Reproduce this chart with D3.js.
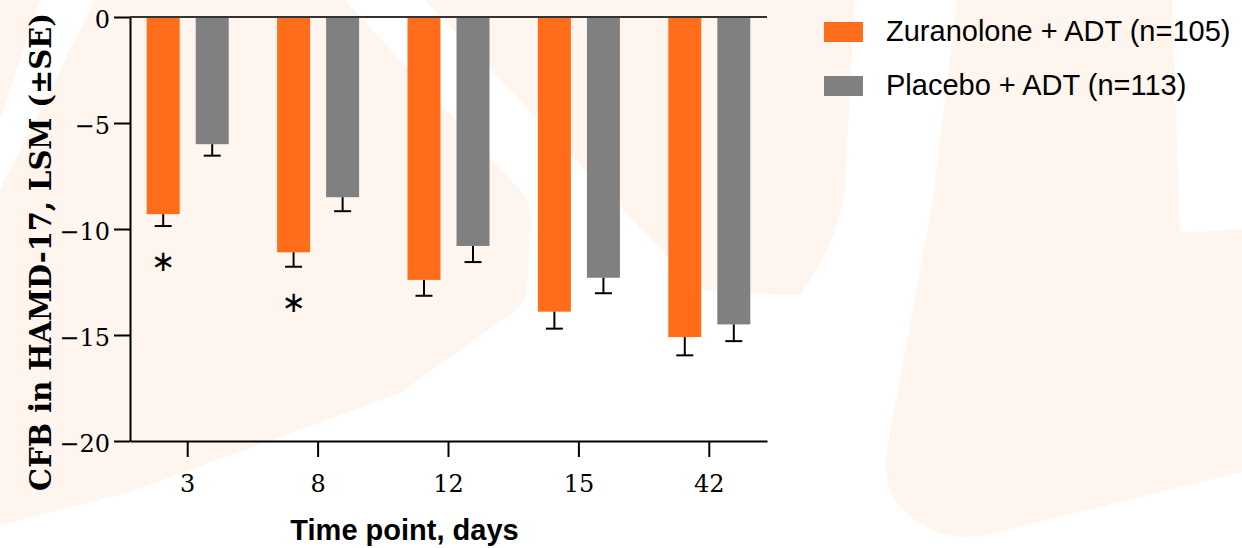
<!DOCTYPE html>
<html>
<head>
<meta charset="utf-8">
<script src="https://cdn.jsdelivr.net/npm/d3@7"></script>
<style>
  html, body { margin: 0; padding: 0; background: #ffffff; }
  svg { display: block; }
</style>
</head>
<body>
<div id="chart"></div>
<script>
// Time points (days) and least-squares mean change from baseline in HAMD-17
const days = ["3", "8", "12", "15", "42"];
const seriesNames = ["Zuranolone + ADT (n=105)", "Placebo + ADT (n=113)"];
const zuranolone = [-9.3, -11.1, -12.4, -13.9, -15.1];
const zuranoloneSE = [0.56, 0.68, 0.75, 0.8, 0.86];
const placebo = [-6.0, -8.5, -10.8, -12.3, -14.5];
const placeboSE = [0.54, 0.66, 0.76, 0.73, 0.79];
const significant = [true, true, false, false, false];
const yTicks = [0, -5, -10, -15, -20];

const W = 1242, H = 548;
const colors = ["#ff6d1a", "#808080"];
const cream = "#fef6ee";

const svg = d3.select("#chart").append("svg")
  .attr("width", W).attr("height", H);

// faint background artwork
const bg = svg.append("g").attr("fill", cream);
bg.append("path").attr("d",
  "M0,0 L345,0 L520,190 Q532,205 530,225 L527,290 Q525,305 505,318 L400,393 L130,492 L0,525 Z");
bg.append("path").attr("d",
  "M425,0 L855,0 L845,185 Q840,240 800,295 L715,292 Q695,290 680,270 Z");
bg.append("path").attr("d",
  "M957,0 L1172,0 L1180,233 L1242,229 L1242,472 L985,535 Q930,545 895,500 Q882,480 887,450 L933,200 Z");
bg.append("path").attr("fill", "#ffffff").attr("d",
  "M40,0 L95,0 L0,190 L0,120 Z");

const margin = { left: 130, right: 767, top: 17, bottom: 441 };

const y = d3.scaleLinear().domain([-20, 0]).range([margin.bottom, margin.top]);

const x0 = d3.scaleBand()
  .domain(days)
  .range([margin.left, margin.right])
  .paddingInner(0.371)
  .paddingOuter(0.128);

const x1 = d3.scaleBand()
  .domain([0, 1])
  .range([0, x0.bandwidth()])
  .paddingInner(0.327);

const rows = days.map((d, i) => ({
  day: d,
  sig: significant[i],
  vals: [
    { s: 0, v: zuranolone[i], se: zuranoloneSE[i] },
    { s: 1, v: placebo[i], se: placeboSE[i] }
  ]
}));

// bars
const groups = svg.append("g").selectAll("g.grp")
  .data(rows).join("g")
  .attr("class", "grp")
  .attr("transform", d => `translate(${x0(d.day)},0)`);

groups.selectAll("rect")
  .data(d => d.vals).join("rect")
  .attr("x", d => x1(d.s))
  .attr("width", x1.bandwidth())
  .attr("y", y(0))
  .attr("height", d => y(d.v) - y(0))
  .attr("fill", d => colors[d.s]);

// error bars (downward, ±SE)
const capHalf = 8.5;
groups.selectAll("g.err")
  .data(d => d.vals).join("g")
  .attr("class", "err")
  .attr("stroke", "#000")
  .attr("stroke-width", 2)
  .each(function (d) {
    const g = d3.select(this);
    const cx = x1(d.s) + x1.bandwidth() / 2;
    g.append("line")
      .attr("x1", cx).attr("x2", cx)
      .attr("y1", y(d.v)).attr("y2", y(d.v - d.se));
    g.append("line")
      .attr("x1", cx - capHalf).attr("x2", cx + capHalf)
      .attr("y1", y(d.v - d.se)).attr("y2", y(d.v - d.se));
  });

// significance markers under the zuranolone bars
groups.filter(d => d.sig).append("text")
  .attr("x", x1(0) + x1.bandwidth() / 2)
  .attr("y", d => y(d.vals[0].v - d.vals[0].se) + 35)
  .attr("text-anchor", "middle")
  .attr("dominant-baseline", "central")
  .attr("font-family", "DejaVu Sans")
  .attr("font-size", 29)
  .attr("fill", "#000")
  .text("\u2217");

// axes
const yAxis = d3.axisLeft(y)
  .tickValues(yTicks)
  .tickSize(16)
  .tickSizeOuter(0)
  .tickPadding(4);

const xAxis = d3.axisBottom(x0)
  .tickSize(16)
  .tickSizeOuter(0)
  .tickPadding(18);

const gy = svg.append("g")
  .attr("transform", `translate(${margin.left},0)`)
  .call(yAxis);

const gx = svg.append("g")
  .attr("transform", `translate(0,${margin.bottom})`)
  .call(xAxis);

[gx, gy].forEach(g => {
  g.attr("font-family", "DejaVu Serif").attr("font-size", 24);
  g.selectAll("path, line").attr("stroke", "#000").attr("stroke-width", 2);
  g.selectAll("text").attr("fill", "#000");
});
gy.selectAll("text").attr("dy", "0.42em");

// zero reference line
svg.append("line")
  .attr("x1", margin.left).attr("x2", margin.right)
  .attr("y1", y(0)).attr("y2", y(0))
  .attr("stroke", "#333").attr("stroke-width", 2);

// axis titles
const yTitle = svg.append("text")
  .attr("transform", "translate(50.5,252) rotate(-90)")
  .attr("text-anchor", "middle")
  .attr("font-family", "DejaVu Serif")
  .attr("font-weight", "bold")
  .attr("font-size", 26)
  .attr("fill", "#000")
  .text("CFB in HAMD-17, LSM (\u00b1SE)");
const yLen = yTitle.node().getComputedTextLength();
yTitle.attr("font-size", 26 * 478 / yLen);

svg.append("text")
  .attr("x", 404.5).attr("y", 540)
  .attr("text-anchor", "middle")
  .attr("font-family", "Liberation Sans, Arial, sans-serif")
  .attr("font-weight", "bold")
  .attr("font-size", 29)
  .attr("fill", "#000")
  .text("Time point, days");

// legend
const legend = svg.append("g").selectAll("g")
  .data(seriesNames).join("g")
  .attr("transform", (d, i) => `translate(824,${22 + i * 54})`);
legend.append("rect")
  .attr("width", 39).attr("height", 20)
  .attr("fill", (d, i) => colors[i]);
legend.append("text")
  .attr("x", 62).attr("y", 19)
  .attr("font-family", "Liberation Sans, Arial, sans-serif")
  .attr("font-size", 29)
  .attr("fill", "#000")
  .text(d => d);
</script>
</body>
</html>
